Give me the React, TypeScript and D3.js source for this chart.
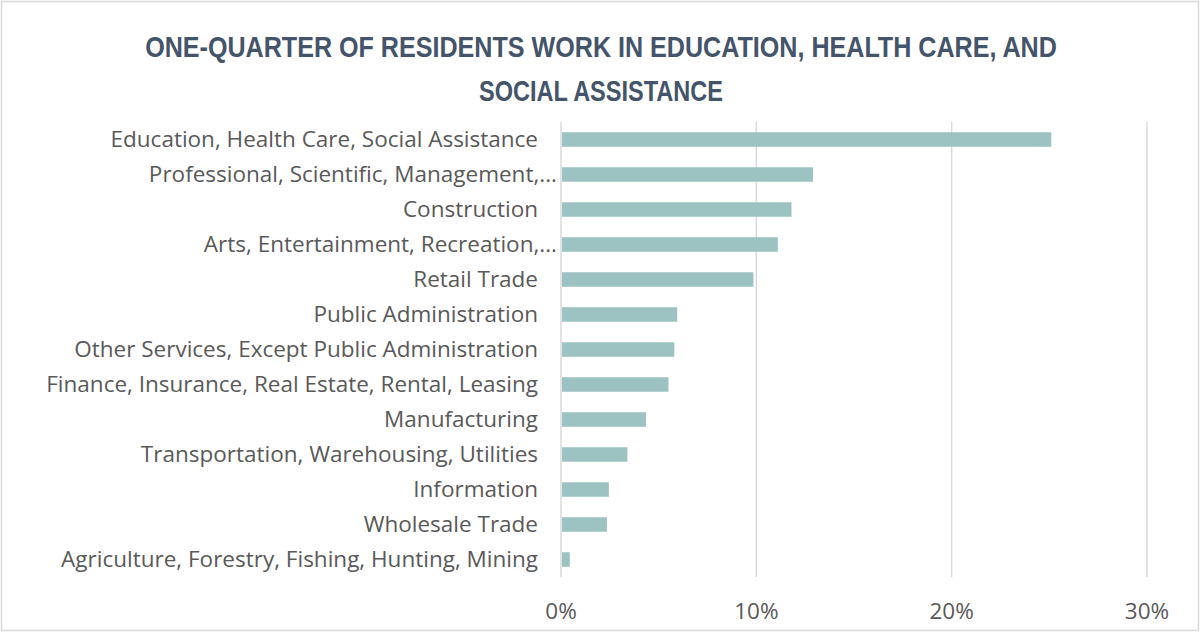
import * as d3 from 'd3';
import React, { useEffect, useRef } from 'react';

const titleLines = [
  'ONE-QUARTER OF RESIDENTS WORK IN EDUCATION, HEALTH CARE, AND',
  'SOCIAL ASSISTANCE',
];
// rendered widths of the two title lines, matching the condensed face of the original
const titleWidths = [912, 244];

const industries = [
  'Education, Health Care, Social Assistance',
  'Professional, Scientific, Management,...',
  'Construction',
  'Arts, Entertainment, Recreation,...',
  'Retail Trade',
  'Public Administration',
  'Other Services, Except Public Administration',
  'Finance, Insurance, Real Estate, Rental, Leasing',
  'Manufacturing',
  'Transportation, Warehousing, Utilities',
  'Information',
  'Wholesale Trade',
  'Agriculture, Forestry, Fishing, Hunting, Mining',
];

const shares = [25.1, 12.9, 11.8, 11.1, 9.85, 5.95, 5.8, 5.5, 4.35, 3.4, 2.45, 2.35, 0.45];

const tickValues = [0, 10, 20, 30];

export default function App({ width = 1200, height = 634 }) {
  const svgRef = useRef(null);

  useEffect(() => {
    const svg = d3.select(svgRef.current);
    svg.selectAll('*').remove();

    const margin = { top: 122, right: 53, bottom: 57, left: 561 };

    // border of the chart area
    svg.append('rect')
      .attr('x', 1.5)
      .attr('y', 1.5)
      .attr('width', width - 3)
      .attr('height', height - 5)
      .attr('fill', '#fff')
      .attr('stroke', '#d9d9d9')
      .attr('stroke-width', 1.5);

    const x = d3.scaleLinear().domain([0, 30]).range([margin.left, width - margin.right]);
    const y = d3.scaleBand()
      .domain(industries)
      .range([margin.top, height - margin.bottom])
      .paddingInner(0.585)
      .paddingOuter(0.2925);

    // title: no condensed bold face available, so squeeze horizontally
    const title = svg.append('g')
      .selectAll('text')
      .data(titleLines)
      .enter()
      .append('text')
      .attr('text-anchor', 'middle')
      .style('font-family', '"Liberation Sans", Arial, sans-serif')
      .style('font-weight', 'bold')
      .style('font-size', '30px')
      .attr('fill', '#44546a')
      .text((d) => d);

    title.attr('transform', function (d, i) {
      const len = (this as SVGTextElement).getComputedTextLength() || titleWidths[i];
      return `translate(601,${57 + i * 44}) scale(${titleWidths[i] / len},1)`;
    });

    // vertical grid lines
    svg.append('g')
      .selectAll('line')
      .data(tickValues)
      .enter()
      .append('line')
      .attr('x1', (d) => x(d))
      .attr('x2', (d) => x(d))
      .attr('y1', margin.top)
      .attr('y2', height - margin.bottom)
      .attr('stroke', '#d9d9d9')
      .attr('stroke-width', 1.5);

    // bars
    svg.append('g')
      .selectAll('rect')
      .data(shares)
      .enter()
      .append('rect')
      .attr('x', x(0) + 1)
      .attr('y', (d, i) => y(industries[i]))
      .attr('width', (d) => x(d) - x(0) - 1)
      .attr('height', y.bandwidth())
      .attr('fill', '#9cc3c1');

    // category labels
    svg.append('g')
      .selectAll('text')
      .data(industries)
      .enter()
      .append('text')
      .attr('x', (d) => (d.endsWith('...') ? 557 : 538))
      .attr('y', (d) => y(d) + y.bandwidth() / 2)
      .attr('dy', '0.35em')
      .attr('text-anchor', 'end')
      .style('font-family', '"Open Sans", sans-serif')
      .style('font-size', '22.5px')
      .attr('fill', '#595959')
      .text((d) => d);

    // x axis tick labels
    svg.append('g')
      .selectAll('text')
      .data(tickValues)
      .enter()
      .append('text')
      .attr('x', (d) => x(d))
      .attr('y', 611)
      .attr('dy', '0.35em')
      .attr('text-anchor', 'middle')
      .style('font-family', '"Open Sans", sans-serif')
      .style('font-size', '22.5px')
      .attr('fill', '#595959')
      .text((d) => d3.format('d')(d) + '%');
  }, []);

  return (
    <svg
      ref={svgRef}
      width={width}
      height={height}
      style={{ position: 'absolute', left: 0, top: 0 }}
    />
  );
}
